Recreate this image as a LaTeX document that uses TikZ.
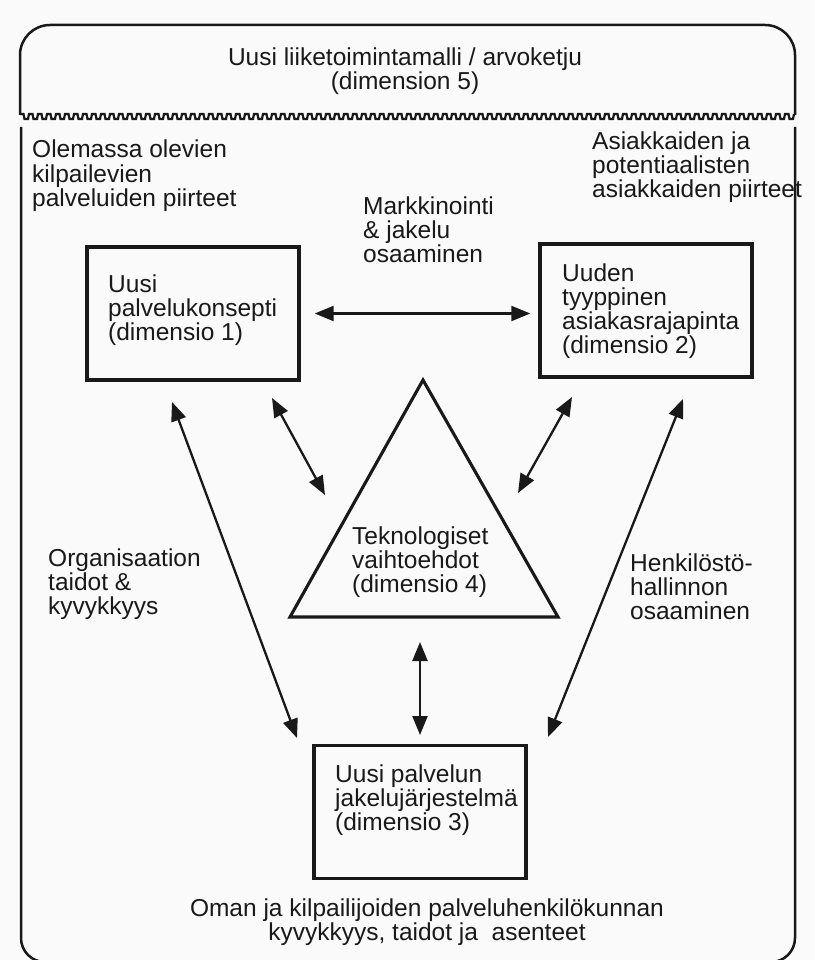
\documentclass[tikz,border=0pt]{standalone}
\usepackage{fontspec}
\setmainfont{Liberation Sans}
\usetikzlibrary{arrows.meta,calc}
\definecolor{paper}{RGB}{250,250,250}
\definecolor{ink}{RGB}{25,25,25}
\begin{document}
\begin{tikzpicture}[x=1pt,y=-1pt,
  % multi-line texts are placed by the baseline of their last line
  txt/.style={inner sep=0pt, text=ink, font=\fontsize{24.5}{24}\selectfont, align=left, anchor=base west},
  ctxt/.style={txt, align=center, anchor=base},
  dimbox/.style={draw=ink, line width=3.4pt, minimum width=212pt, minimum height=133pt, inner sep=0pt},
  frame/.style={draw=ink, line width=2.5pt},
  wave/.style={draw=ink, line width=2.2pt, line join=miter},
  tri/.style={draw=ink, line width=3.1pt, line join=miter},
  biarrow/.style={draw=ink, line width=2.3pt, {Triangle[length=19pt,width=15pt]}-{Triangle[length=19pt,width=15pt]}}]

% page
\fill[paper] (0,0) rectangle (814,960);
\useasboundingbox (0,0) rectangle (814,960);

% outer frame: upper band and lower area, split by a wavy line
\draw[frame] (20,115) -- (20,55) arc[start angle=180, end angle=270, radius=30] -- (765,25)
  arc[start angle=270, end angle=360, radius=30] -- (795,115);
\draw[wave] (20,114) \foreach \i in {0,...,85} { -- ++(3.5,0) -- ++(1,5) -- ++(3.5,0) -- ++(1,-5) };
\draw[frame] (21,127) -- (21,938) arc[start angle=180, end angle=90, radius=24] -- (771,962)
  arc[start angle=90, end angle=0, radius=24] -- (795,127);

% texts of the frame
\node[ctxt] (title) at (405,90) {Uusi liiketoimintamalli / arvoketju\\(dimension 5)};
\node[txt] (comp) at (32,206) {Olemassa olevien\\kilpailevien\\palveluiden piirteet};
\node[txt] (cust) at (592,197) {Asiakkaiden ja\\potentiaalisten\\asiakkaiden piirteet};
\node[txt] (mark) at (363,262) {Markkinointi\\\& jakelu\\osaaminen};
\node[txt] (org) at (48,614) {Organisaation\\taidot \&\\kyvykkyys};
\node[txt] (hr) at (630,619) {Henkilöstö-\\hallinnon\\osaaminen};
\node[ctxt] (staff) at (427,940) {Oman ja kilpailijoiden palveluhenkilökunnan\\kyvykkyys, taidot ja\ \ asenteet};

% dimension boxes
\node[dimbox] (b1) at (193,313.5) {};
\node[dimbox] (b2) at (646,310.5) {};
\node[dimbox] (b3) at (420,812) {};
\node[txt] (b1t) at (108,340) {Uusi\\palvelukonsepti\\(dimensio 1)};
\node[txt] (b2t) at (562,353) {Uuden\\tyyppinen\\asiakasrajapinta\\(dimensio 2)};
\node[txt] (b3t) at (335,830) {Uusi palvelun\\jakelujärjestelmä\\(dimensio 3)};

% technology triangle
\coordinate (tA) at (423,380);
\coordinate (tB) at (558,617);
\coordinate (tC) at (290,617);
\draw[tri] (tA) -- (tB) -- (tC) -- cycle;
\node[txt] (tt) at (352,592) {Teknologiset\\vaihtoehdot\\(dimensio 4)};

% arrow end points
\coordinate (p1) at (272,398);
\coordinate (p2) at (325,495);
\coordinate (q1) at (572,397);
\coordinate (q2) at (518,493);
\coordinate (v1) at (420,642);
\coordinate (v2) at (420,735);
\coordinate (l1) at (172,402);
\coordinate (l2) at (297,738);
\coordinate (r1) at (683,399);
\coordinate (r2) at (548,737);

% connectors
\draw[biarrow, shorten <=14pt, shorten >=8pt] (b1.east) -- (b1.east -| b2.west);
\draw[biarrow] (p1) -- (p2);
\draw[biarrow] (q1) -- (q2);
\draw[biarrow] (v1) -- (v2);
\draw[biarrow] (l1) -- (l2);
\draw[biarrow] (r1) -- (r2);
\end{tikzpicture}
\end{document}
